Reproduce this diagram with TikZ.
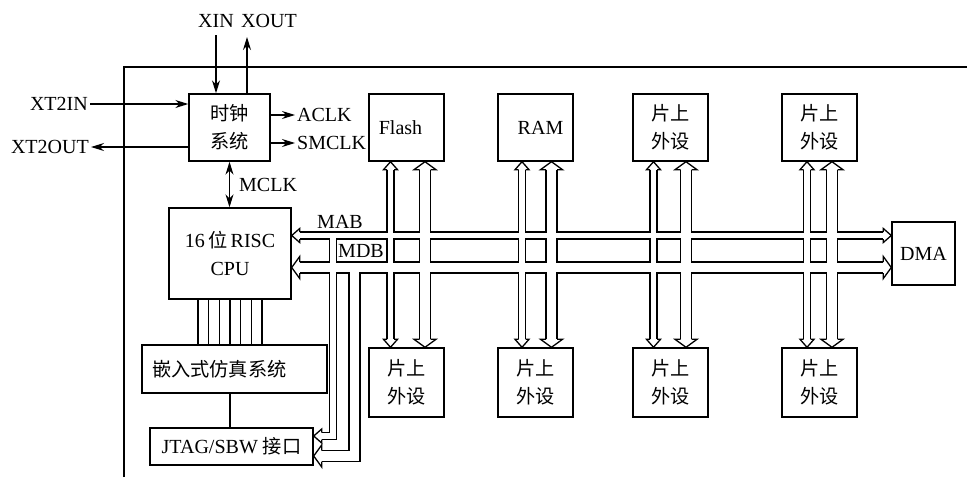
\documentclass[tikz,border=0pt]{standalone}
\usepackage{fontspec}
\setmainfont{Liberation Serif}
\newfontfamily\cjk{Noto Sans CJK SC}[Scale=0.96]
\usetikzlibrary{arrows.meta,backgrounds}

\newcommand\onchip{{\cjk 片上}\\{\cjk 外设}}
% both outlines of the buses, #1 = chan (black) or core (white)
\newcommand\buslines[1]{%
  \draw[#1=7] (cpu.east |- mab) -- (dma.west |- mab);
  \draw[#1=11] (cpu.east |- mdb) -- (dma.west |- mdb);
  \foreach \a/\d/\n in {390.5/425/1, 522/551.5/2, 653.5/686/3, 807/832/4} {
    \draw[#1=7] (\a,0 |- t\n.south) -- (\a,0 |- b\n.north);
    \draw[#1=11] (\d,0 |- t\n.south) -- (\d,0 |- b\n.north);
  }
  \draw[#1=7] (333,0 |- mab) -- (333,436) -- (jtag.east |- 0,436);
  \draw[#1=11] (354.5,0 |- mdb) -- (354.5,456) -- (jtag.east |- 0,456);
}

\begin{document}
\begin{tikzpicture}[x=1pt,y=-1pt,
  font=\fontsize{20}{28}\selectfont,
  >={Stealth[length=13pt,width=8pt]},
  box/.style={draw, line width=1.4pt, inner sep=0pt, align=center},
  lbl/.style={inner sep=2pt},
  wire/.style={line width=1.3pt},
  chan/.style={line width=#1pt+1.3pt, line join=miter},
  core/.style={white, line width=#1pt-1.3pt},
  pics/bushead/.style={code={
    \fill[white] (-8,-#1/2-0.8) rectangle (0,#1/2+0.8);
    \draw[line width=1.3pt, line join=miter] (-8,-#1/2) -- (-8,-#1) -- (0,0) -- (-8,#1) -- (-8,#1/2);
  }}]
\useasboundingbox (0,0) rectangle (967,477);
\draw[line width=2.5pt] (124,477) -- (124,67) -- (967,67);

% blocks
\node[box, minimum width=81, minimum height=67] (clk) at (229.5,127.5) {{\cjk 时钟}\\{\cjk 系统}};
\node[box, minimum width=122, minimum height=91] (cpu) at (230,253.5) {16\,{\cjk 位}\,RISC\\CPU};
\node[box, text width=165, inner xsep=10, align=left, minimum height=48] (emu) at (234.5,369) {{\cjk 嵌入式仿真系统}};
\node[box, minimum width=163, minimum height=37] (jtag) at (231.5,446.5) {JTAG/SBW {\cjk 接口}};
\node[box, minimum width=63, minimum height=63] (dma) at (923.5,253.5) {DMA};
\node[box, minimum width=75, minimum height=67] (t1) at (406.5,127.5) {Flash\hspace{12pt}};
\node[box, minimum width=75, minimum height=67] (t2) at (535.5,127.5) {\hspace{10pt}RAM};
\node[box, minimum width=75, minimum height=67] (t3) at (670.5,127.5) {\onchip};
\node[box, minimum width=75, minimum height=67] (t4) at (819.5,127.5) {\onchip};
\foreach \n/\cx in {1/406.5, 2/535.5, 3/670.5, 4/819.5}
  \node[box, minimum width=75, minimum height=69] (b\n) at (\cx,382.5) {\onchip};

% clock signals
\node[lbl, inner ysep=7pt, anchor=south] (xin) at (216,35) {XIN};
\node[lbl, inner ysep=7pt, anchor=south] (xout) at (269,35) {XOUT};
\coordinate (xo) at (247,37);
\draw[wire, ->] (xin.south) -- (xin.south |- clk.north);
\draw[wire, ->] (clk.north -| xo) -- (xo);
\node[lbl, anchor=east] (xt2in) at (90,104) {XT2IN};
\node[lbl, anchor=east] (xt2out) at (91,147) {XT2OUT};
\draw[wire, ->] (xt2in.east) -- (xt2in -| clk.west);
\draw[wire, ->] (xt2out -| clk.west) -- (xt2out.east);
\node[lbl, anchor=west] (aclk) at (295,115) {ACLK};
\node[lbl, anchor=west] (smclk) at (295,143) {SMCLK};
\draw[wire, ->] (aclk -| clk.east) -- (aclk.west);
\draw[wire, ->] (smclk -| clk.east) -- (smclk.west);
\node[lbl, anchor=west] (mclk) at (237,185) {MCLK};
\draw[wire, <->] (clk.south) -- (clk.south |- cpu.north);

% cpu to emulation to jtag
\foreach \i in {-3,...,3}
  \draw[wire] ([xshift=\i*10.7pt]cpu.south) -- ([xshift=\i*10.7pt]cpu.south |- emu.north);
\draw[wire] (cpu.south |- emu.south) -- (cpu.south |- jtag.north);

% buses
\coordinate (mab) at (0,235.5);
\coordinate (mdb) at (0,267.5);
\node[lbl] (mabl) at (340,222) {MAB};
\node[lbl] (mdbl) at (361,251) {MDB};
\begin{scope}[on background layer]
  \buslines{chan}
  \buslines{core}
  \pic[rotate=180] at (cpu.east |- mab) {bushead=7};
  \pic[rotate=180] at (cpu.east |- mdb) {bushead=11};
  \pic at (dma.west |- mab) {bushead=7};
  \pic at (dma.west |- mdb) {bushead=11};
  \foreach \a/\d/\n in {390.5/425/1, 522/551.5/2, 653.5/686/3, 807/832/4} {
    \pic[rotate=90] at (\a,0 |- t\n.south) {bushead=7};
    \pic[rotate=-90] at (\a,0 |- b\n.north) {bushead=7};
    \pic[rotate=90] at (\d,0 |- t\n.south) {bushead=11};
    \pic[rotate=-90] at (\d,0 |- b\n.north) {bushead=11};
  }
  \pic[rotate=180] at (jtag.east |- 0,436) {bushead=7};
  \pic[rotate=180] at (jtag.east |- 0,456) {bushead=11};
\end{scope}
\end{tikzpicture}
\end{document}
